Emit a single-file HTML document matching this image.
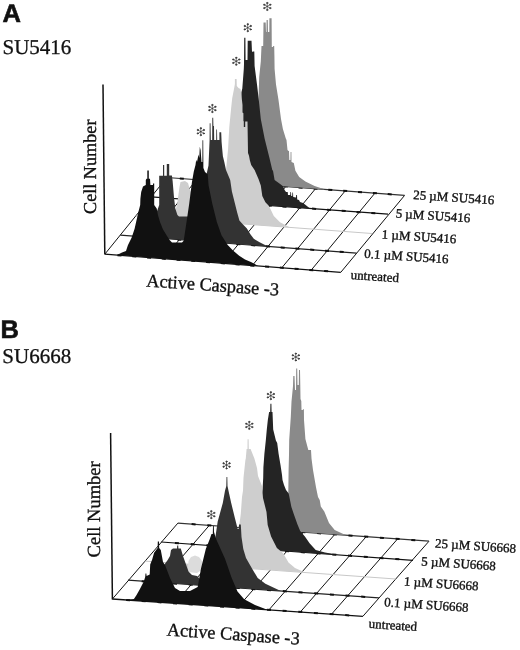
<!DOCTYPE html>
<html><head><meta charset="utf-8"><style>
html,body{margin:0;padding:0;background:#fff;width:520px;height:650px;overflow:hidden}
svg{display:block;will-change:transform;filter:blur(0.35px)}
text{font-family:"Liberation Serif",serif;fill:#111;stroke:#111;stroke-width:0.35px;text-rendering:geometricPrecision}
.big{font-family:"Liberation Sans",sans-serif;font-weight:bold;font-size:25.5px;stroke-width:0.6px}
.sub{font-size:21px;stroke-width:0.3px}
.g{stroke:#111;stroke-width:1}
</style></head><body>
<svg width="520" height="650" viewBox="0 0 520 650">
<line x1="104.8" y1="254.2" x2="166.9" y2="177.5" class="g"/>
<line x1="134.3" y1="256.5" x2="196.6" y2="179.7" class="g"/>
<line x1="163.8" y1="258.7" x2="226.3" y2="182" class="g"/>
<line x1="193.3" y1="261" x2="256" y2="184.2" class="g"/>
<line x1="222.8" y1="263.2" x2="285.8" y2="186.4" class="g"/>
<line x1="252.3" y1="265.5" x2="315.5" y2="188.7" class="g"/>
<line x1="281.8" y1="267.8" x2="345.2" y2="190.9" class="g"/>
<line x1="311.3" y1="270" x2="374.9" y2="193.2" class="g"/>
<line x1="340.8" y1="272.3" x2="404.6" y2="195.4" class="g"/>
<line x1="104.8" y1="254.2" x2="340.8" y2="272.3" stroke="#111" stroke-width="1.3"/>
<path d="M117.5 255.2L121.5 255.5M132.3 256.3L136.3 256.6M147.1 257.4L151.1 257.7M161.8 258.6L165.8 258.9M176.6 259.7L180.6 260M191.3 260.8L195.3 261.1M206.1 262L210.1 262.3M220.8 263.1L224.8 263.4M235.6 264.2L239.6 264.5M250.3 265.4L254.3 265.7M265.1 266.5L269.1 266.8M279.8 267.6L283.8 267.9M294.6 268.8L298.6 269.1M309.3 269.9L313.3 270.2M324.1 271L328.1 271.3" stroke="#111" stroke-width="2"/>
<line x1="120.3" y1="235.2" x2="356.5" y2="253.1" stroke="#222" stroke-width="1.2"/>
<path d="M133.1 236.2L137.1 236.5M147.8 237.3L151.8 237.6M162.6 238.4L166.6 238.7M177.3 239.5L181.3 239.8M192.1 240.6L196.1 240.9M206.9 241.8L210.9 242.1M221.6 242.9L225.6 243.2M236.4 244L240.4 244.3M251.2 245.1L255.2 245.4M265.9 246.2L269.9 246.5M280.7 247.4L284.7 247.7M295.4 248.5L299.4 248.8M310.2 249.6L314.2 249.9M325 250.7L329 251M339.7 251.8L343.7 252.1" stroke="#111" stroke-width="2"/>
<line x1="135.8" y1="216" x2="371.9" y2="233.5" stroke="#c8c8c8" stroke-width="1.0"/>
<line x1="151.3" y1="196.8" x2="388.1" y2="214.2" stroke="#111" stroke-width="1.2"/>
<path d="M164.1 197.7L168.1 198M178.9 198.8L182.9 199.1M193.7 199.9L197.7 200.2M208.5 201L212.5 201.3M223.3 202.1L227.3 202.4M238.1 203.2L242.1 203.5M252.9 204.3L256.9 204.6M267.7 205.3L271.7 205.7M282.5 206.4L286.5 206.7M297.3 207.5L301.3 207.8M312.1 208.6L316.1 208.9M326.9 209.7L330.9 210M341.7 210.8L345.7 211.1M356.5 211.9L360.5 212.2M371.3 213L375.3 213.3" stroke="#111" stroke-width="2"/>
<line x1="166.9" y1="177.5" x2="404.6" y2="195.4" stroke="#333" stroke-width="1.2"/>
<path d="M179.8 178.5L183.8 178.8M194.6 179.6L198.6 179.9M209.5 180.7L213.5 181M224.3 181.8L228.3 182.1M239.2 182.9L243.2 183.2M254 184.1L258 184.4M268.9 185.2L272.9 185.5M283.8 186.3L287.8 186.6M298.6 187.4L302.6 187.7M313.5 188.5L317.5 188.8M328.3 189.7L332.3 190M343.2 190.8L347.2 191.1M358 191.9L362 192.2M372.9 193L376.9 193.3M387.7 194.1L391.7 194.4" stroke="#111" stroke-width="2"/>
<polygon points="248,183.6 248,183.6 252,160 254,140 256,125 258.5,100 259.2,77 260.8,61.5 261.5,46 263.2,46 263.5,22.5 265.7,22.5 266,32 266.5,32 266.6,20 267.8,20 268,32 269.3,32 269.4,18.3 271.6,18.3 271.8,47 273.1,47 273.1,46 274.2,46 274.4,55 274.6,69 276,84.6 278.5,100 281,119 282.9,129 285.8,138.5 286.5,140 287.5,150 288.5,151 289,151 289.3,160 290.5,160 290.6,152 291.4,152 291.5,162 293.8,163 295.4,170.8 299.2,177 305.4,181.5 314.6,186 325,189.4 325,189.4" fill="#8a8a8a"/>
<polygon points="226,202.3 226,202.3 236,130 241,100 241.5,92 242.3,88.5 243.8,69 244,64 244.2,37.7 245.4,37.7 245.6,60 247.5,60 247.7,40.8 251.5,40.8 252,52 252.8,51.5 254.3,51.5 254.6,66 257,84.6 258.8,100 260.8,119 264.6,138.5 269.4,157.7 272.3,170 273,170.8 274.6,180 280.8,184.6 283,186.2 283.8,187.7 284.6,190 286,192 287.7,192 288,195 290.2,195 290.4,192 291,192 291.2,196 292.2,196 292.4,192.5 293,192.5 293.2,197 296,197.5 296.2,195 297,195 297.2,199.5 299,200 300,202 303,203 305,204.5 310,208.5 310,208.5" fill="#242424"/>
<polygon points="168,218.4 168,218.4 174,214 177,205 179.5,187 180.5,182 185,181 188,183 190,190 195,200 205,205 215,200 222,185 226,170 228,150 229.3,127 230.3,116.8 231.2,107.5 232.2,98.3 234,89 234.9,84 234.9,79 236.6,79 236.8,86 238.5,88 240.5,89 241.5,96 242.5,105 242.5,112.4 243.4,113.3 243.4,120.7 243.8,121.5 243.8,127 245.2,127 245.2,121.5 247.5,121.5 248,153 249,155.8 249.9,160.4 251.2,165 254.6,170 258.5,179 260.8,185.4 262.3,196 265.4,202.3 269,206 273.8,216 280,222.3 290,227.4 290,227.4" fill="#cecece"/>
<polygon points="150,237.5 150,237.5 152,225 156,214 159.2,205 159.2,175.8 163,175.8 163,165 164.2,165 164.2,175.8 166.8,175.8 166.8,164.1 169.2,164.1 169.2,175.5 171.9,175.5 172.6,180.7 174,197.3 175.3,208.4 177.4,215 179,216.5 188,216.5 195,208 203,190 208.5,165.4 209.6,140 209.7,123.3 210.5,123.3 210.8,140 212.2,140 212.3,117.8 213.2,117.8 213.4,126 214,126 214.2,140 216.2,140 216.3,129.6 217,129.6 217.2,140 219.4,140 219.4,132.3 221.2,132.3 221.6,142 222.2,149 222.9,156.3 224.3,162 226,170 230.2,180 231.9,191.5 234.8,203 237.1,212.3 239.4,220.4 242.3,223.8 246.9,228.4 250.4,234.2 253.8,238.8 259.6,242.3 268,246.4 268,246.4" fill="#333333"/>
<polygon points="117,255.1 117,255.1 122,252.5 126,251 127.9,245.2 131.7,237.5 134.6,228.8 138.5,211.5 140.2,205 140.4,198.8 141.2,192 143,186.5 145.8,185 145.8,180 146.5,178.8 147.3,178.8 147.3,170.4 148.8,170.4 148.8,178.8 150,178.8 150.4,185 153,185 153,183.5 154.2,183.5 154.2,205 156.7,208.4 158,215.3 160.1,222.2 162.9,229.2 167,236 169.8,240.2 172,242.5 182,242.5 183.7,240.7 186.5,222.2 189.2,203.8 192,181.7 193.8,171.5 195.5,165 196.2,159.8 197,162 198.5,154.4 199.3,158 199.8,146.7 200.6,150 201.5,162 202.4,162 202.5,140.2 203.2,140.2 203.4,168 205,172 207.7,174.3 208.6,185.4 212.3,203.8 216.9,222.2 221.5,235.2 227.7,245 233,250.5 239.2,255.8 245,259.5 251.5,262.2 258,265.9 258,265.9" fill="#111111"/>
<g stroke="#3a3a3a" fill="#3a3a3a" stroke-width="0.65" stroke-linecap="round"><line x1="267.2" y1="6.4" x2="267.2" y2="9.8"/><circle cx="267.2" cy="9.9" r="0.7"/><line x1="267.2" y1="6.4" x2="264.3" y2="8.1"/><circle cx="264.2" cy="8.1" r="0.7"/><line x1="267.2" y1="6.4" x2="264.3" y2="4.7"/><circle cx="264.2" cy="4.7" r="0.7"/><line x1="267.2" y1="6.4" x2="267.2" y2="3"/><circle cx="267.2" cy="3" r="0.7"/><line x1="267.2" y1="6.4" x2="270.1" y2="4.7"/><circle cx="270.2" cy="4.7" r="0.7"/><line x1="267.2" y1="6.4" x2="270.1" y2="8.1"/><circle cx="270.2" cy="8.1" r="0.7"/></g>
<g stroke="#3a3a3a" fill="#3a3a3a" stroke-width="0.65" stroke-linecap="round"><line x1="247.7" y1="27.7" x2="247.7" y2="31.1"/><circle cx="247.7" cy="31.1" r="0.7"/><line x1="247.7" y1="27.7" x2="244.8" y2="29.4"/><circle cx="244.7" cy="29.4" r="0.7"/><line x1="247.7" y1="27.7" x2="244.8" y2="26"/><circle cx="244.7" cy="26" r="0.7"/><line x1="247.7" y1="27.7" x2="247.7" y2="24.3"/><circle cx="247.7" cy="24.2" r="0.7"/><line x1="247.7" y1="27.7" x2="250.6" y2="26"/><circle cx="250.7" cy="26" r="0.7"/><line x1="247.7" y1="27.7" x2="250.6" y2="29.4"/><circle cx="250.7" cy="29.4" r="0.7"/></g>
<g stroke="#3a3a3a" fill="#3a3a3a" stroke-width="0.65" stroke-linecap="round"><line x1="236.2" y1="61.2" x2="236.2" y2="64.6"/><circle cx="236.2" cy="64.7" r="0.7"/><line x1="236.2" y1="61.2" x2="233.3" y2="62.9"/><circle cx="233.2" cy="62.9" r="0.7"/><line x1="236.2" y1="61.2" x2="233.3" y2="59.5"/><circle cx="233.2" cy="59.5" r="0.7"/><line x1="236.2" y1="61.2" x2="236.2" y2="57.8"/><circle cx="236.2" cy="57.8" r="0.7"/><line x1="236.2" y1="61.2" x2="239.1" y2="59.5"/><circle cx="239.2" cy="59.5" r="0.7"/><line x1="236.2" y1="61.2" x2="239.1" y2="62.9"/><circle cx="239.2" cy="62.9" r="0.7"/></g>
<g stroke="#3a3a3a" fill="#3a3a3a" stroke-width="0.65" stroke-linecap="round"><line x1="212.3" y1="108.5" x2="212.3" y2="111.9"/><circle cx="212.3" cy="112" r="0.7"/><line x1="212.3" y1="108.5" x2="209.4" y2="110.2"/><circle cx="209.3" cy="110.2" r="0.7"/><line x1="212.3" y1="108.5" x2="209.4" y2="106.8"/><circle cx="209.3" cy="106.8" r="0.7"/><line x1="212.3" y1="108.5" x2="212.3" y2="105.1"/><circle cx="212.3" cy="105" r="0.7"/><line x1="212.3" y1="108.5" x2="215.2" y2="106.8"/><circle cx="215.3" cy="106.8" r="0.7"/><line x1="212.3" y1="108.5" x2="215.2" y2="110.2"/><circle cx="215.3" cy="110.2" r="0.7"/></g>
<g stroke="#3a3a3a" fill="#3a3a3a" stroke-width="0.65" stroke-linecap="round"><line x1="200.8" y1="131.7" x2="200.8" y2="135.1"/><circle cx="200.8" cy="135.1" r="0.7"/><line x1="200.8" y1="131.7" x2="197.9" y2="133.4"/><circle cx="197.8" cy="133.4" r="0.7"/><line x1="200.8" y1="131.7" x2="197.9" y2="130"/><circle cx="197.8" cy="130" r="0.7"/><line x1="200.8" y1="131.7" x2="200.8" y2="128.3"/><circle cx="200.8" cy="128.2" r="0.7"/><line x1="200.8" y1="131.7" x2="203.7" y2="130"/><circle cx="203.8" cy="130" r="0.7"/><line x1="200.8" y1="131.7" x2="203.7" y2="133.4"/><circle cx="203.8" cy="133.4" r="0.7"/></g>
<line x1="103.0" y1="84.6" x2="104.8" y2="254.3" stroke="#111" stroke-width="1.5"/>
<line x1="112.4" y1="599" x2="177.9" y2="523.1" class="g"/>
<line x1="143.7" y1="601.2" x2="209.3" y2="525.4" class="g"/>
<line x1="175" y1="603.3" x2="240.7" y2="527.6" class="g"/>
<line x1="206.3" y1="605.5" x2="272.1" y2="529.9" class="g"/>
<line x1="237.6" y1="607.6" x2="303.4" y2="532.2" class="g"/>
<line x1="269" y1="609.8" x2="334.8" y2="534.4" class="g"/>
<line x1="300.3" y1="612" x2="366.2" y2="536.7" class="g"/>
<line x1="331.6" y1="614.1" x2="397.6" y2="538.9" class="g"/>
<line x1="362.9" y1="616.3" x2="429" y2="541.2" class="g"/>
<line x1="112.4" y1="599" x2="362.9" y2="616.3" stroke="#111" stroke-width="1.3"/>
<path d="M126.1 599.9L130.1 600.2M141.7 601L145.7 601.3M157.4 602.1L161.4 602.4M173 603.2L177 603.5M188.7 604.3L192.7 604.6M204.3 605.3L208.3 605.6M220 606.4L224 606.7M235.6 607.5L239.6 607.8M251.3 608.6L255.3 608.9M267 609.7L271 610M282.6 610.7L286.6 611M298.3 611.8L302.3 612.1M313.9 612.9L317.9 613.2M329.6 614L333.6 614.3M345.2 615.1L349.2 615.4" stroke="#111" stroke-width="2"/>
<line x1="128" y1="580.2" x2="378.9" y2="597.9" stroke="#222" stroke-width="1.2"/>
<path d="M141.7 581.2L145.7 581.5M157.4 582.3L161.4 582.6M173 583.4L177 583.7M188.7 584.5L192.7 584.8M204.4 585.6L208.4 585.9M220.1 586.7L224.1 587M235.8 587.8L239.8 588.1M251.4 588.9L255.4 589.2M267.1 590L271.1 590.3M282.8 591.1L286.8 591.4M298.5 592.2L302.5 592.5M314.2 593.3L318.2 593.6M329.9 594.4L333.9 594.7M345.5 595.5L349.5 595.8M361.2 596.6L365.2 596.9" stroke="#111" stroke-width="2"/>
<line x1="144.6" y1="561.1" x2="395.8" y2="579" stroke="#c8c8c8" stroke-width="1.0"/>
<line x1="161.2" y1="542" x2="413" y2="560.3" stroke="#111" stroke-width="1.2"/>
<path d="M174.9 543L178.9 543.3M190.7 544.1L194.7 544.4M206.4 545.3L210.4 545.6M222.1 546.4L226.1 546.7M237.9 547.6L241.9 547.9M253.6 548.7L257.6 549M269.4 549.9L273.4 550.2M285.1 551L289.1 551.3M300.8 552.1L304.8 552.4M316.6 553.3L320.6 553.6M332.3 554.4L336.3 554.7M348.1 555.6L352.1 555.9M363.8 556.7L367.8 557M379.5 557.9L383.5 558.2M395.3 559L399.3 559.3" stroke="#111" stroke-width="2"/>
<line x1="177.9" y1="523.1" x2="429" y2="541.2" stroke="#333" stroke-width="1.2"/>
<path d="M191.6 524.1L195.6 524.4M207.3 525.2L211.3 525.5M223 526.3L227 526.6M238.7 527.5L242.7 527.8M254.4 528.6L258.4 528.9M270.1 529.7L274.1 530M285.8 530.9L289.8 531.2M301.4 532L305.4 532.3M317.1 533.1L321.1 533.4M332.8 534.3L336.8 534.6M348.5 535.4L352.5 535.7M364.2 536.5L368.2 536.8M379.9 537.7L383.9 538M395.6 538.8L399.6 539.1M411.3 539.9L415.3 540.2" stroke="#111" stroke-width="2"/>
<polygon points="287,531 287,531 288.2,500 288.6,470 289,455 289.2,440 290.8,417 291.5,401.5 293,386 293.3,376 294.5,376 295,390 296,390 296.2,368.5 297.2,368.5 297.5,385 298.8,385 299,370 300,370 300.3,386 300.5,399 301.3,401 301.5,410 302.8,410 303,409.2 303.9,409.2 304,420 305.4,439 308.3,450 311,450 311.5,458.5 313,470 316,487.3 318,497 319.7,500 320.8,506.5 324.3,511.5 329,523 334.7,530 346,535.2 346,535.2" fill="#8a8a8a"/>
<polygon points="250,548.5 250,548.5 258,520 262.6,489 263.2,478 263.4,467.3 264.4,453.8 265.8,440.4 266.8,429.6 267.8,420.2 269.1,412.1 270.2,412 270.4,403.8 271.4,403.8 271.6,412 272.5,412 273.2,429.6 275.9,440.4 277.2,443 278.6,453.8 280.5,465 282,475 282.5,480 284,485 286,490 288.7,493.5 291.4,507 294.1,515 297.5,524.4 300.2,531.1 304.9,536.5 309.6,543.3 315.7,550 325,552.5 339,554.9 339,554.9" fill="#242424"/>
<polygon points="176,563.3 176,563.3 184,574 188,571 193,569 199,570 205,574 215,577 230,565 236,545 240,520 240.8,513.8 242,497 243,490.8 243.5,477.7 245.4,460 245.8,458.5 246.6,449 247.5,449 247.6,439.2 248.6,439.2 248.8,449 250.6,449 254.4,458.5 257,468 258,476 262,486 263,498 265,506 266.5,512 267.7,525 271.1,536.5 276.9,548 283,553 288.5,562.4 295,568 305,572.5 305,572.5" fill="#cecece"/>
<polygon points="187.5,572 188.5,561 191,557 195,555.5 199,557 202,561 203,569 197,573" fill="#dcdcdc"/>
<polygon points="150,581.8 150,581.8 160,575 164,565 167.7,560 170,556 171,550 173,548.5 177,548.5 177.2,545.4 178.2,545.4 178.4,548.5 180.8,548.5 183,556 188.5,571.5 192,575 197,576 203,582 212,560 217.7,521.5 222.8,503 225,490.8 226.3,486 226.5,477 227.3,477 227.5,486 228.5,490.8 231.2,503 235,518.5 237.7,529 238.8,529 239,524.6 240.8,524.6 241.5,537 243.3,549 246,558 252,568.5 257.7,578 265.4,583.8 280.8,591 280.8,591" fill="#333333"/>
<polygon points="127,600 127,600 133.9,599 136.4,595.2 139.8,589.3 143.8,581.4 145.2,577 145.5,573.5 146.3,573.5 146.6,576 149.7,574.5 150.2,564.6 152.1,559.7 154.1,552.8 157.6,548 157.8,541.5 159,541.5 159.2,548 160.8,550 163,562 165,565 170,578 175,588 180,591 190,591 197.7,587 201,568.5 205.8,549 209.6,539.6 211.5,534 212.8,534 213,526 213.8,526 214,532 214.6,534 216.3,539.6 225,558.8 231.7,578 237.5,591.5 244.2,599.2 255,605 267.3,609.7 267.3,609.7" fill="#111111"/>
<g stroke="#3a3a3a" fill="#3a3a3a" stroke-width="0.65" stroke-linecap="round"><line x1="295.8" y1="357" x2="295.8" y2="360.4"/><circle cx="295.8" cy="360.4" r="0.7"/><line x1="295.8" y1="357" x2="292.9" y2="358.7"/><circle cx="292.8" cy="358.7" r="0.7"/><line x1="295.8" y1="357" x2="292.9" y2="355.3"/><circle cx="292.8" cy="355.3" r="0.7"/><line x1="295.8" y1="357" x2="295.8" y2="353.6"/><circle cx="295.8" cy="353.6" r="0.7"/><line x1="295.8" y1="357" x2="298.7" y2="355.3"/><circle cx="298.8" cy="355.3" r="0.7"/><line x1="295.8" y1="357" x2="298.7" y2="358.7"/><circle cx="298.8" cy="358.7" r="0.7"/></g>
<g stroke="#3a3a3a" fill="#3a3a3a" stroke-width="0.65" stroke-linecap="round"><line x1="270.8" y1="395.7" x2="270.8" y2="399.1"/><circle cx="270.8" cy="399.1" r="0.7"/><line x1="270.8" y1="395.7" x2="267.9" y2="397.4"/><circle cx="267.8" cy="397.4" r="0.7"/><line x1="270.8" y1="395.7" x2="267.9" y2="394"/><circle cx="267.8" cy="394" r="0.7"/><line x1="270.8" y1="395.7" x2="270.8" y2="392.3"/><circle cx="270.8" cy="392.2" r="0.7"/><line x1="270.8" y1="395.7" x2="273.7" y2="394"/><circle cx="273.8" cy="394" r="0.7"/><line x1="270.8" y1="395.7" x2="273.7" y2="397.4"/><circle cx="273.8" cy="397.4" r="0.7"/></g>
<g stroke="#3a3a3a" fill="#3a3a3a" stroke-width="0.65" stroke-linecap="round"><line x1="249.2" y1="425.4" x2="249.2" y2="428.8"/><circle cx="249.2" cy="428.8" r="0.7"/><line x1="249.2" y1="425.4" x2="246.3" y2="427.1"/><circle cx="246.2" cy="427.1" r="0.7"/><line x1="249.2" y1="425.4" x2="246.3" y2="423.7"/><circle cx="246.2" cy="423.7" r="0.7"/><line x1="249.2" y1="425.4" x2="249.2" y2="422"/><circle cx="249.2" cy="421.9" r="0.7"/><line x1="249.2" y1="425.4" x2="252.1" y2="423.7"/><circle cx="252.2" cy="423.7" r="0.7"/><line x1="249.2" y1="425.4" x2="252.1" y2="427.1"/><circle cx="252.2" cy="427.1" r="0.7"/></g>
<g stroke="#3a3a3a" fill="#3a3a3a" stroke-width="0.65" stroke-linecap="round"><line x1="226.5" y1="465" x2="226.5" y2="468.4"/><circle cx="226.5" cy="468.4" r="0.7"/><line x1="226.5" y1="465" x2="223.6" y2="466.7"/><circle cx="223.5" cy="466.7" r="0.7"/><line x1="226.5" y1="465" x2="223.6" y2="463.3"/><circle cx="223.5" cy="463.3" r="0.7"/><line x1="226.5" y1="465" x2="226.5" y2="461.6"/><circle cx="226.5" cy="461.6" r="0.7"/><line x1="226.5" y1="465" x2="229.4" y2="463.3"/><circle cx="229.5" cy="463.3" r="0.7"/><line x1="226.5" y1="465" x2="229.4" y2="466.7"/><circle cx="229.5" cy="466.7" r="0.7"/></g>
<g stroke="#3a3a3a" fill="#3a3a3a" stroke-width="0.65" stroke-linecap="round"><line x1="211.2" y1="514.6" x2="211.2" y2="518"/><circle cx="211.2" cy="518.1" r="0.7"/><line x1="211.2" y1="514.6" x2="208.3" y2="516.3"/><circle cx="208.2" cy="516.3" r="0.7"/><line x1="211.2" y1="514.6" x2="208.3" y2="512.9"/><circle cx="208.2" cy="512.9" r="0.7"/><line x1="211.2" y1="514.6" x2="211.2" y2="511.2"/><circle cx="211.2" cy="511.2" r="0.7"/><line x1="211.2" y1="514.6" x2="214.1" y2="512.9"/><circle cx="214.2" cy="512.9" r="0.7"/><line x1="211.2" y1="514.6" x2="214.1" y2="516.3"/><circle cx="214.2" cy="516.3" r="0.7"/></g>
<line x1="110.6" y1="433.1" x2="112.4" y2="599.5" stroke="#111" stroke-width="1.5"/>
<text x="2.6" y="21.5" class="big">A</text>
<text x="2.5" y="53.8" class="sub">SU5416</text>
<text x="0.6" y="337.9" class="big">B</text>
<text x="2.3" y="362.9" class="sub">SU6668</text>
<text x="412.9" y="199" transform="rotate(3.8 412.9 199)" font-size="13">25 &#181;M SU5416</text>
<text x="395.4" y="217.5" transform="rotate(3.8 395.4 217.5)" font-size="13">5 &#181;M SU5416</text>
<text x="381.5" y="238.5" transform="rotate(3.8 381.5 238.5)" font-size="13">1 &#181;M SU5416</text>
<text x="364" y="257.8" transform="rotate(3.8 364 257.8)" font-size="13">0.1 &#181;M SU5416</text>
<text x="350.4" y="279" transform="rotate(3.8 350.4 279)" font-size="13">untreated</text>
<text x="434.8" y="547.5" transform="rotate(3.8 434.8 547.5)" font-size="13">25 &#181;M SU6668</text>
<text x="421" y="565.4" transform="rotate(3.8 421 565.4)" font-size="13">5 &#181;M SU6668</text>
<text x="403.8" y="585.6" transform="rotate(3.8 403.8 585.6)" font-size="13">1 &#181;M SU6668</text>
<text x="384" y="606.3" transform="rotate(3.8 384 606.3)" font-size="13">0.1 &#181;M SU6668</text>
<text x="368.6" y="627.8" transform="rotate(3.8 368.6 627.8)" font-size="13">untreated</text>
<text x="146" y="286.4" transform="rotate(4 146 286.4)" font-size="18.3">Active Caspase -3</text>
<text x="166.6" y="635.4" transform="rotate(4 166.6 635.4)" font-size="18.3">Active Caspase -3</text>
<text x="96" y="214" transform="rotate(-90 96 214)" font-size="18.2">Cell Number</text>
<text x="100.5" y="557.4" transform="rotate(-90 100.5 557.4)" font-size="18.5">Cell Number</text>
</svg>
</body></html>
